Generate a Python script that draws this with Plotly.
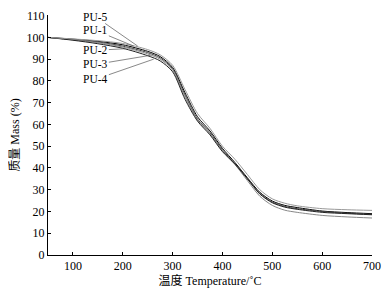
import plotly.graph_objects as go

temps = [50, 100, 150, 200, 250, 275, 300, 325, 350, 375, 400, 425, 450, 475, 500, 525, 550, 600, 650, 700]
pu1 = [100, 99.2, 98.2, 96.6, 93.6, 91.2, 86.2, 74.5, 63.5, 57.0, 49.0, 42.5, 35.5, 28.8, 24.8, 22.8, 21.8, 20.2, 19.5, 19.0]
pu2 = [100, 99.0, 97.9, 96.0, 93.0, 90.6, 85.6, 73.5, 62.5, 56.2, 48.3, 42.0, 35.0, 28.3, 24.3, 22.3, 21.3, 20.0, 19.2, 18.7]
pu3 = [100, 98.9, 97.6, 95.6, 92.4, 90.0, 85.0, 72.5, 62.0, 55.7, 47.8, 41.6, 34.2, 27.0, 22.8, 20.6, 19.6, 18.2, 17.5, 17.0]
pu4 = [100, 98.7, 97.1, 95.0, 91.6, 89.2, 84.2, 71.5, 61.5, 55.2, 47.5, 41.8, 35.0, 28.0, 24.0, 22.0, 21.0, 19.6, 19.0, 18.5]
pu5 = [100, 99.3, 98.5, 97.2, 94.4, 92.0, 87.2, 76.0, 65.0, 58.2, 50.0, 44.0, 37.0, 30.0, 25.8, 23.8, 22.6, 21.3, 20.8, 20.5]

series = [("PU-1", pu1, "#000000"), ("PU-2", pu2, "#444444"),
          ("PU-3", pu3, "#888888"), ("PU-4", pu4, "#222222"),
          ("PU-5", pu5, "#999999")]

# label: (text center x, text center y, arrow tip x, arrow tip y)
labels = [("PU-5", 146, 109.4, 230, 96.0),
          ("PU-1", 146, 103.2, 222, 96.0),
          ("PU-2", 146, 94.1, 206, 94.8),
          ("PU-3", 146, 87.6, 256, 91.8),
          ("PU-4", 146, 80.8, 262, 90.0)]

font = "Liberation Serif, Times New Roman, Noto Sans CJK SC, serif"

fig = go.Figure()
for name, vals, col in series:
    fig.add_trace(go.Scatter(x=temps, y=vals, mode="lines", name=name,
                             line=dict(color=col, width=1, shape="spline", smoothing=0.8)))

for txt, tx, ty, px, py in labels:
    fig.add_annotation(x=px, y=py, ax=tx, ay=ty, axref="x", ayref="y", xref="x", yref="y",
                       text=txt, showarrow=True, arrowhead=0, arrowwidth=0.7, arrowcolor="#555555",
                       font=dict(family=font, size=11.5, color="black"), borderpad=0)

# the page body adds an 8px offset, so the figure is sized/margined to compensate
fig.update_layout(
    width=382, height=284,
    margin=dict(l=40, r=18, t=7, b=37),
    paper_bgcolor="white", plot_bgcolor="white",
    showlegend=False,
    font=dict(family=font, size=12, color="black"),
)
fig.update_xaxes(range=[50, 700], tickvals=[100, 200, 300, 400, 500, 600, 700],
                 ticks="inside", ticklen=3, tickcolor="black", showline=True, linecolor="black",
                 linewidth=1, showgrid=False, zeroline=False, automargin=False,
                 title=dict(text="温度 Temperature/˚C", standoff=2, font=dict(size=12)))
fig.update_yaxes(range=[0, 110.3], tickvals=list(range(0, 111, 10)),
                 ticks="inside", ticklen=3, tickcolor="black", showline=True, linecolor="black",
                 linewidth=1, showgrid=False, zeroline=False, automargin=False,
                 ticklabeloverflow="allow",
                 title=dict(text="质量 Mass (%)", standoff=6, font=dict(size=12)))

fig.write_html("out.html")
